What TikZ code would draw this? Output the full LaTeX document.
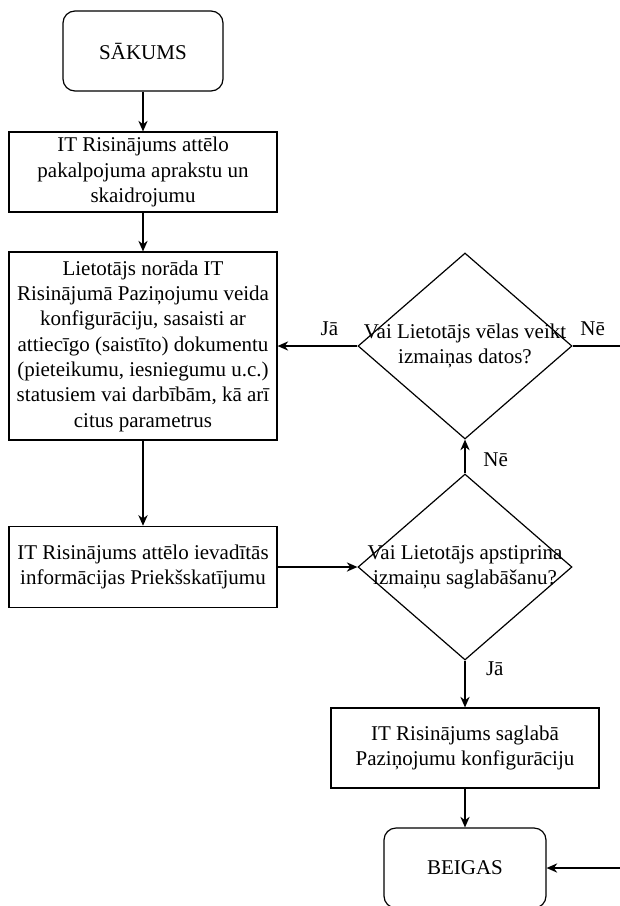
\documentclass[tikz,border=0pt]{standalone}
\usepackage{fontspec}
\setmainfont{Liberation Serif}
\usetikzlibrary{shapes.geometric,arrows.meta}

\tikzset{
  box/.style={draw, line width=0.9pt, minimum width=201pt, minimum height=60pt,
    align=center, inner sep=2pt},
  term/.style={draw, line width=0.9pt, rounded corners=9pt, minimum width=120pt,
    minimum height=60pt},
  decision/.style={draw, line width=0.9pt, diamond, minimum width=160.5pt,
    minimum height=139.5pt, inner sep=0pt},
  flow/.style={draw, line width=0.9pt, -{Stealth[length=8pt,width=7pt]}}
}

\begin{document}
\begin{tikzpicture}[x=0.75pt, y=-0.75pt, font=\fontsize{15.75}{19}\selectfont]
\useasboundingbox (0,0) rectangle (620,906);

% Left column
\node[term] (start) at (143,51) {SĀKUMS};
\node[box] (show) at (143,172) {IT Risinājums attēlo\\pakalpojuma aprakstu un\\skaidrojumu};
\node[box, minimum height=141pt] (config) at (143,346) {Lietotājs norāda IT\\Risinājumā Paziņojumu veida\\konfigurāciju, sasaisti ar\\attiecīgo (saistīto) dokumentu\\(pieteikumu, iesniegumu u.c.)\\statusiem vai darbībām, kā arī\\citus parametrus};
\node[box, minimum height=61pt] (preview) at (143,567) {IT Risinājums attēlo ievadītās\\informācijas Priekšskatījumu};

% Decisions
\node[decision, label={[align=center]center:Vai Lietotājs vēlas veikt\\izmaiņas datos?}] (change) at (465,346) {};
\node[decision, label={[align=center]center:Vai Lietotājs apstiprina\\izmaiņu saglabāšanu?}] (confirm) at (465,567) {};

% Right column
\node[box] (save) at (465,748) {IT Risinājums saglabā\\Paziņojumu konfigurāciju};
\node[term, minimum width=121.5pt] (end) at (465,868) {BEIGAS};

% Return line leaves the page on the right
\coordinate (offside) at (660,346);

% Connectors
\draw[flow] (start) -- (show);
\draw[flow] (show) -- (config);
\draw[flow] (config) -- (preview);
\draw[flow] (preview) -- (confirm);
\draw[flow] (confirm) -- node[pos=0.4, right=10pt] {Nē} (change);
\draw[flow] (change) -- node[pos=0.35, above=4pt] {Jā} (config);
\draw[flow] (change) -- node[pos=0.23, above=4pt] {Nē} (offside) |- (end);
\draw[flow] (confirm) -- node[pos=0.17, right=12pt] {Jā} (save);
\draw[flow] (save) -- (end);

\end{tikzpicture}
\end{document}
